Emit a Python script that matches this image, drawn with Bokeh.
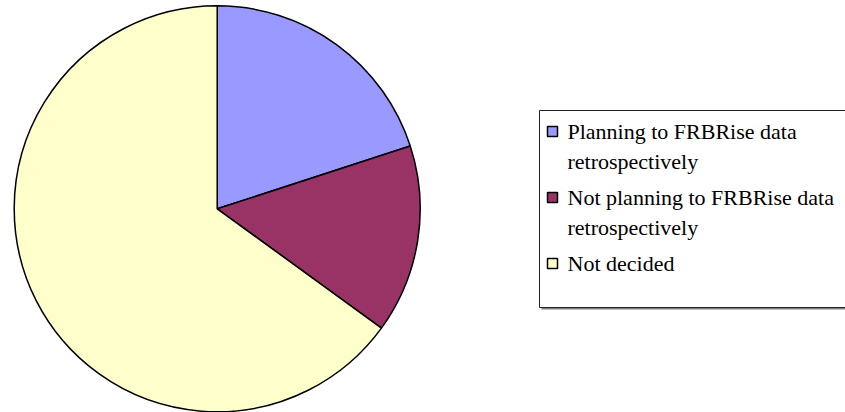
import math
import textwrap
from bokeh.plotting import figure
from bokeh.models import Range1d, ColumnDataSource
from bokeh.core.properties import value
from bokeh.embed import file_html
from bokeh.resources import INLINE

# ---- data ----
categories = [
    "Planning to FRBRise data retrospectively",
    "Not planning to FRBRise data retrospectively",
    "Not decided",
]
shares = [20, 15, 65]
colors = ["#9999FF", "#993366", "#FFFFCC"]

W, H = 845, 412
p = figure(width=W, height=H, x_range=Range1d(0, W), y_range=Range1d(0, H),
           x_axis_type=None, y_axis_type=None, min_border=0,
           output_backend="svg", toolbar_location=None)
p.grid.visible = False
p.outline_line_color = None
p.background_fill_color = "white"
p.border_fill_color = "white"

# ---- pie ----
cx, cy, r = 216.7, H - 208.3, 203
total = float(sum(shares))
starts, ends = [], []
acc = 0.0
for s in shares:
    a0 = math.pi / 2 - acc / total * 2 * math.pi
    acc += s
    a1 = math.pi / 2 - acc / total * 2 * math.pi
    starts.append(a1)
    ends.append(a0)
src = ColumnDataSource(dict(start=starts, end=ends, color=colors,
                            x=[cx] * 3, y=[cy] * 3))
p.wedge(x="x", y="y", radius=r, start_angle="start", end_angle="end",
        fill_color="color", line_color="black", line_width=1.5, source=src)

# ---- legend ----
bx0, bx1, by0, by1 = 539, 870, 110, 307
p.quad(left=bx0 + 2, right=bx1 + 2, top=H - by0 - 2, bottom=H - by1 - 2,
       fill_color="#808080", line_color=None)
p.quad(left=bx0, right=bx1, top=H - by0, bottom=H - by1,
       fill_color="white", line_color="#222222", line_width=1)

font = value("Times New Roman")
y = 131
line_h = 30
gap = 36
for cat, col in zip(categories, colors):
    lines = textwrap.wrap(cat, 28)
    p.rect(x=[552], y=[H - y], width=10, height=10, width_units="screen",
           height_units="screen", fill_color=col, line_color="black", line_width=1.5)
    for i, ln in enumerate(lines):
        p.text(x=[567], y=[H - (y + i * line_h)], text=[ln], text_font=font,
               text_font_size="22px", text_baseline="middle", text_align="left",
               text_color="black")
    y += (len(lines) - 1) * line_h + gap

open("out.html", "w").write(file_html(p, INLINE))
